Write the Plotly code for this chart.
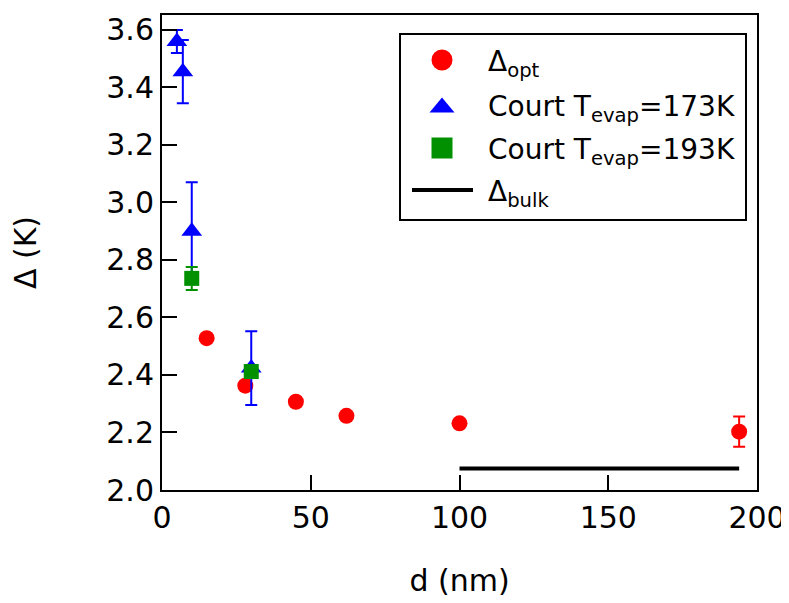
import plotly.graph_objects as go

# Δ_opt (red circles)
opt_d = [15, 28, 45, 62, 100, 194]
opt_delta = [2.528, 2.363, 2.307, 2.258, 2.232, 2.203]
opt_err = [0.01, 0.01, 0.01, 0.01, 0.01, 0.053]

# Court T_evap = 173 K (blue triangles)
c173_d = [5, 7, 10, 30]
c173_delta = [3.56, 3.455, 2.90, 2.424]
c173_err = [0.04, 0.11, 0.17, 0.128]

# Court T_evap = 193 K (green squares)
c193_d = [10, 30]
c193_delta = [2.736, 2.412]
c193_err = [0.04, 0.01]

# Δ_bulk (black line)
bulk_d = [100, 194]
bulk_delta = [2.075, 2.075]

legend_labels = ["Δ<sub>opt</sub>", "Court T<sub>evap</sub>=173K",
                 "Court T<sub>evap</sub>=193K", "Δ<sub>bulk</sub>"]

FONT = "DejaVu Sans"
RED, BLUE, GREEN = "#ff0000", "#0000ff", "#009000"

OFF = 8  # default page body margin
W, H = 789 - OFF, 603 - OFF
ML, MR, MT, MB = 162 - OFF, 32, 15 - OFF, 113
PW, PH = W - ML - MR, H - MT - MB


def px(x):
    return (x - OFF - ML) / PW


def py(y):
    return (H - MB - (y - OFF)) / PH


fig = go.Figure()
fig.add_trace(go.Scatter(
    x=opt_d, y=opt_delta, mode="markers", name=legend_labels[0],
    marker=dict(symbol="circle", size=16, color=RED),
    error_y=dict(type="data", array=opt_err, color=RED, thickness=2, width=6),
))
fig.add_trace(go.Scatter(
    x=c173_d, y=c173_delta, mode="markers", name=legend_labels[1],
    marker=dict(symbol="triangle-up", size=18, color=BLUE),
    error_y=dict(type="data", array=c173_err, color=BLUE, thickness=2, width=6),
))
fig.add_trace(go.Scatter(
    x=c193_d, y=c193_delta, mode="markers", name=legend_labels[2],
    marker=dict(symbol="square", size=15, color=GREEN),
    error_y=dict(type="data", array=c193_err, color=GREEN, thickness=2, width=6),
))
fig.add_trace(go.Scatter(
    x=bulk_d, y=bulk_delta, mode="lines", name=legend_labels[3],
    line=dict(color="black", width=4),
))

# ---- hand-drawn legend box (layout decoration) ----
shapes = []
annotations = []
shapes.append(dict(type="rect", xref="paper", yref="paper",
                   x0=px(400), x1=px(746), y0=py(220), y1=py(34),
                   line=dict(color="black", width=2), fillcolor="white", layer="above"))
sym_x = 442
item_y = [60, 105, 148, 190]
r = 10.5
shapes.append(dict(type="circle", xref="paper", yref="paper",
                   x0=px(sym_x - r), x1=px(sym_x + r), y0=py(item_y[0] + r), y1=py(item_y[0] - r),
                   line=dict(width=0), fillcolor=RED, layer="above"))
tw, th = 12.5, 7.5
yc = item_y[1]
shapes.append(dict(type="path", xref="paper", yref="paper",
                   path=f"M {px(sym_x - tw)} {py(yc + th)} L {px(sym_x + tw)} {py(yc + th)} L {px(sym_x)} {py(yc - th)} Z",
                   line=dict(width=0), fillcolor=BLUE, layer="above"))
s = 10.5
shapes.append(dict(type="rect", xref="paper", yref="paper",
                   x0=px(sym_x - s), x1=px(sym_x + s), y0=py(item_y[2] + s), y1=py(item_y[2] - s),
                   line=dict(width=0), fillcolor=GREEN, layer="above"))
shapes.append(dict(type="line", xref="paper", yref="paper",
                   x0=px(412), x1=px(473), y0=py(item_y[3]), y1=py(item_y[3]),
                   line=dict(color="black", width=4), layer="above"))
for lab, yy in zip(legend_labels, item_y):
    annotations.append(dict(text=lab, xref="paper", yref="paper",
                            x=px(486), y=py(yy + 3), xanchor="left", yanchor="middle",
                            showarrow=False, font=dict(family=FONT, size=28, color="black")))

axis_common = dict(
    showgrid=False, zeroline=False, showline=True, linecolor="black", linewidth=2,
    mirror=True, ticks="inside", ticklen=15, tickwidth=1.5, tickcolor="black",
    tickfont=dict(family=FONT, size=30, color="black"), automargin=False,
)

fig.update_layout(
    width=W, height=H,
    margin=dict(l=ML, r=MR, t=MT, b=MB),
    paper_bgcolor="white", plot_bgcolor="white",
    font=dict(family=FONT, size=30, color="black"),
    xaxis=dict(range=[0, 200], tickvals=[0, 50, 100, 150, 200],
               title=dict(text="d (nm)", font=dict(family=FONT, size=30), standoff=36),
               **axis_common),
    yaxis=dict(range=[2.0, 3.652], tickvals=[2.0, 2.2, 2.4, 2.6, 2.8, 3.0, 3.2, 3.4, 3.6],
               tickformat=".1f",
               title=dict(text="Δ (K)", font=dict(family=FONT, size=30), standoff=62),
               **axis_common),
    showlegend=False,
    shapes=shapes,
    annotations=annotations,
)

fig.write_html("out.html")
